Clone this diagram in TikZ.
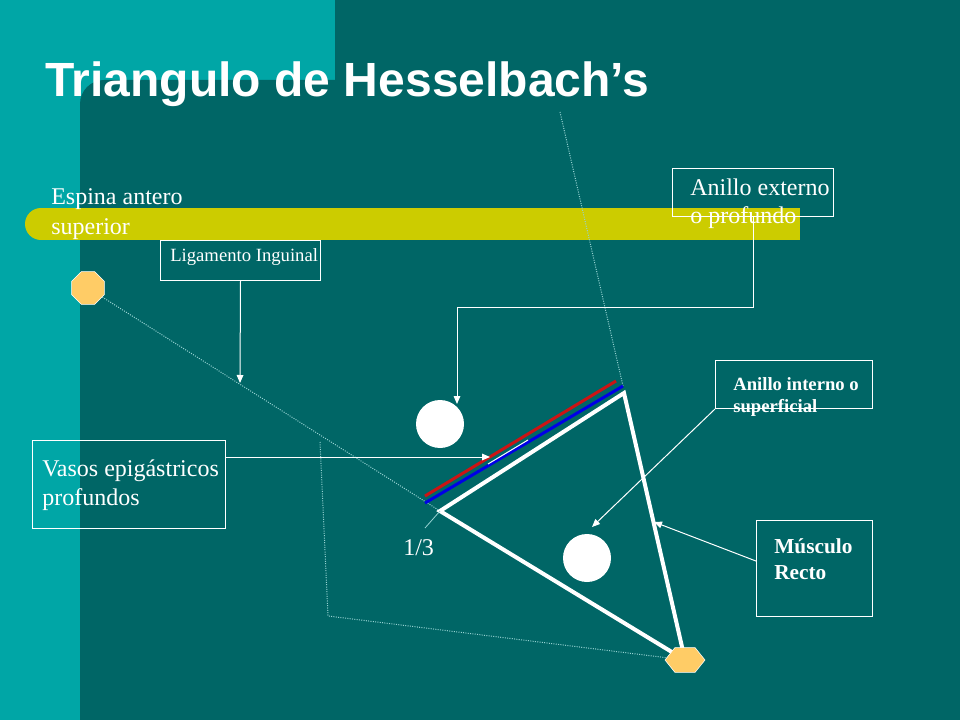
\documentclass[tikz,border=0pt]{standalone}
\usepackage{fontspec}
\setmainfont{Liberation Serif}
\newfontfamily\headfont{Liberation Sans}
\usetikzlibrary{arrows.meta,shapes.geometric}
\definecolor{deepteal}{RGB}{0,102,102}
\definecolor{lightteal}{RGB}{0,166,166}
\definecolor{bandyellow}{RGB}{204,204,0}
\definecolor{spotorange}{RGB}{255,204,102}
\definecolor{dotcyan}{RGB}{150,210,210}
\definecolor{lineblue}{RGB}{0,0,230}
\definecolor{linered}{RGB}{204,20,20}

\begin{document}
\begin{tikzpicture}[x=0.75pt,y=-0.75pt]
\tikzstyle{lbl}=[text=white,inner sep=0pt,anchor=base west,align=left]
\tikzstyle{box}=[draw=white,line width=0.75pt,inner sep=0pt,anchor=north west]
\tikzstyle{conn}=[draw=white,line width=0.75pt,-{Triangle[length=6pt,width=5pt]}]
\tikzstyle{guide}=[draw=dotcyan,line width=0.75pt,densely dotted]
\tikzstyle{side}=[draw=white,line width=3pt]
\tikzstyle{spot}=[circle,fill=white,minimum size=36pt,inner sep=0pt]
\tikzstyle{octa}=[regular polygon,regular polygon sides=8,fill=spotorange,draw=white,line width=0.4pt,minimum size=26.5pt,inner sep=0pt]
\tikzstyle{hexa}=[regular polygon,regular polygon sides=6,fill=spotorange,draw=white,line width=0.4pt,minimum size=30pt,inner sep=0pt,yscale=0.72,transform shape]

% background
\useasboundingbox (0,0) rectangle (960,720);
\fill[lightteal] (0,0) rectangle (960,720);
\fill[deepteal,rounded corners=18pt] (80,80) rectangle (1000,760);
\fill[deepteal] (335,0) rectangle (960,100);
\fill[bandyellow] (41,208) rectangle (800,240);
\fill[bandyellow] (41,224) circle[radius=12pt];

% texts: base of the last line
\node[lbl,font=\headfont\bfseries\fontsize{36}{43}\selectfont] (title) at (45,97) {Triangulo de Hesselbach’s};
\node[lbl,font=\fontsize{18}{22.5}\selectfont] (espina) at (51,235) {Espina antero\\superior};

% boxes and their texts
\node[box,minimum width=120pt,minimum height=30pt] (lig) at (160,240) {};
\node[lbl,font=\fontsize{14}{16.8}\selectfont] (ligtxt) at (170,262) {Ligamento Inguinal};
\node[box,minimum width=120.75pt,minimum height=36pt] (anex) at (672,168) {};
\node[lbl,font=\fontsize{18}{21}\selectfont] (anextxt) at (690,224) {Anillo externo\\o profundo};
\node[box,minimum width=117.75pt,minimum height=36pt] (ain) at (715,360) {};
\node[lbl,font=\bfseries\fontsize{14}{16}\selectfont] (aintxt) at (733,412) {Anillo interno o\\superficial};
\node[box,minimum width=144.75pt,minimum height=66pt] (vas) at (32,440) {};
\node[lbl,font=\fontsize{18}{21.75}\selectfont] (vastxt) at (42,505) {Vasos epigástricos\\profundos};
\node[box,minimum width=87pt,minimum height=72pt] (mus) at (756,520) {};
\node[lbl,font=\bfseries\fontsize{16}{19.5}\selectfont] (mustxt) at (774,579) {Músculo\\Recto};
\node[lbl,font=\fontsize{18}{21.6}\selectfont] (third) at (403,555) {1/3};

% triangle points
\coordinate (L) at (440,511);
\coordinate (T) at (624,393);
\coordinate (b1) at (425,503);
\coordinate (b2) at (623,386);
\node[spot] (c1) at (440,424) {};
\node[spot] (c2) at (587,558) {};
\node[octa] (oct) at (88,288) {};

% guide lines
\coordinate (gtop) at (560,112);
\coordinate (g1) at (320,442);
\coordinate (g2) at (328,616);
\draw[guide] (oct) -- (L);
\draw[guide] (gtop) -- (b2);
\draw[guide] (g1) -- (g2) -- (685,660);

\draw[linered,line width=2.25pt] (425,496) -- (616,381);
\draw[lineblue,line width=2.25pt] (b1) -- (b2);
\draw[white,line width=0.75pt] (488,464) -- (528,440);
\draw[side] (685,660) -- (L) -- (T) -- (685,660);
\node[hexa] (hx) at (685,660) {};

\coordinate (t13) at (425,528);
\draw[dotcyan,line width=0.6pt] (t13) -- (L);

% connectors
\coordinate (ligtip) at (240,383);
\coordinate (k1) at (457,308);
\coordinate (k2) at (457,404);
\coordinate (vtip) at (490,457);
\coordinate (atip) at (592,527);
\coordinate (mtip) at (654,522);
\draw[conn] (lig.south) -- (ligtip);
\draw[conn] (anex.south) |- (k1) -- (k2);
\draw[conn] (vas.east |- vtip) -- (vtip);
\draw[conn] (ain.south west) -- (atip);
\draw[conn] ([yshift=5.6pt]mus.west) -- (mtip);
\end{tikzpicture}
\end{document}
